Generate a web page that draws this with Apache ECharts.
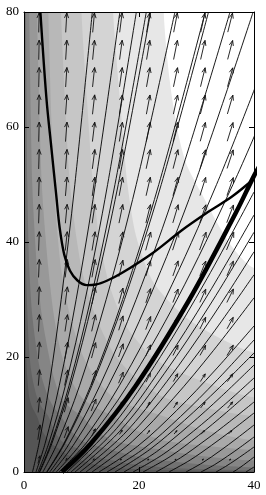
<!DOCTYPE html>
<html><head><meta charset="utf-8">
<script src="https://cdn.jsdelivr.net/npm/echarts@6/dist/echarts.min.js"></script>
<style>html,body{margin:0;padding:0;background:#fff}#c{width:266px;height:495px}</style>
</head><body><div id="c"></div>
<script>
// ---- axes ----
const xTicks = [0, 20, 40];
const yTicks = [0, 20, 40, 60, 80];

// ---- gray band boundaries (top edge -> right edge), lightest first ----
const band1 = [[24.3,80],[24.9,72],[25.8,64.7],[27,58],[28.3,53.4],[31,48.2],[33.5,43.5],[36.3,39],[40,35.5]];
const band2 = [[15.5,80],[16.7,64.7],[18,50],[19.5,41],[22.5,33],[28,27],[34,23.3],[40,20.8]];
const band3 = [[10,80],[11,64],[12,50],[13.2,40],[15,32],[18,25],[23,19.5],[31,15.8],[40,13]];
const band4 = [[6.43,80],[8.0,50],[10,35.5],[12.4,27.2],[15.5,20.8],[19.4,16.4],[24.3,13],[31.2,11.2],[40,9.7]];
const band5 = [[4.23,80],[5.2,50],[6.43,35.5],[8.0,27.2],[10,20.8],[12.4,16.4],[15.5,13],[19.4,11.2],[24.3,9.7],[31.2,7.3],[40,5.5]];
const band6 = [[2.26,80],[3.1,50],[4.23,35.5],[5.2,27.2],[6.43,20.8],[8.0,16.4],[10,13],[12.4,11.2],[15.5,9.7],[19.4,7.3],[24.3,5.5],[31.2,4.6],[40,3.8]];
const band7 = [[0.92,80],[1.44,50],[2.26,35.5],[3.1,27.2],[4.23,20.8],[5.2,16.4],[6.43,13],[8.0,11.2],[10,9.7],[12.4,7.3],[15.5,5.5],[19.4,4.6],[24.3,3.8],[31.2,2.75],[40,2.0]];
const band8 = [[0.35,80],[0.57,50],[0.92,35.5],[1.44,27.2],[2.26,20.8],[3.1,16.4],[4.23,13],[5.2,11.2],[6.43,9.7],[8.0,7.3],[10,5.5],[12.4,4.6],[15.5,3.8],[19.4,2.75],[24.3,2.0],[31.2,1.3],[40,0.8]];
const band9 = [[0.12,80],[0.35,35.5],[0.92,20.8],[1.44,16.4],[2.26,13],[3.1,11.2],[4.23,9.7],[5.2,7.3],[6.43,5.5],[8.0,4.6],[10,3.8],[12.4,2.75],[15.5,2.0],[19.4,1.3],[24.3,0.8],[31.2,0.5],[40,0.3]];
const band10 = [[0.04,80],[0.12,35.5],[0.35,20.8],[0.57,16.4],[0.92,13],[1.44,11.2],[2.26,9.7],[3.1,7.3],[4.23,5.5],[5.2,4.6],[6.43,3.8],[8.0,2.75],[10,2.0],[12.4,1.3],[15.5,0.8],[19.4,0.5],[24.3,0.3],[31.2,0.17],[40,0.1]];
const bandBase = '#555555';
// colour of the region above each boundary, lightest (above band1) first
const bandColors = ['#ffffff','#e7e7e7','#d4d4d4','#c6c6c6','#b8b8b8','#a9a9a9','#989898','#858585','#727272','#636363'];

// ---- streamlines ----
const slA = [[1.48,0],[2.62,5],[4.37,15],[6.47,30],[8.84,50],[11.88,80]];
const slB = [[2.08,0],[3.68,5],[6.13,15],[9.07,30],[12.40,50],[16.67,80]];
const slC = [[2.44,0],[4.31,5],[7.19,15],[10.64,30],[14.54,50],[19.54,80]];
const slD = [[2.66,0],[4.70,5],[7.83,15],[11.58,30],[15.82,50],[21.27,80]];
const slE = [[2.75,0],[4.86,5],[8.11,15],[11.99,30],[16.39,50],[22.03,80]];
const slF = [[3.28,0],[5.80,5],[9.66,15],[14.29,30],[19.52,50],[26.25,80]];
const slG = [[3.94,0],[6.96,5],[11.60,15],[17.16,30],[23.44,50],[31.52,80]];
const slH = [[4.01,0],[7.09,5],[11.81,15],[17.47,30],[23.87,50],[32.09,80]];
const slI = [[4.47,0],[7.91,5],[13.18,15],[19.50,30],[26.65,50],[35.83,80]];
const slJ = [[4.98,0],[8.80,5],[14.66,15],[21.69,30],[29.64,50],[39.85,80]];
const slK = [[5.62,0],[9.94,5],[16.57,15],[24.51,30],[33.49,50],[41.4,70]];
const slL = [[6.10,0],[10.79,5],[17.98,15],[26.60,30],[36.34,50],[41.6,62]];
const sr1 = [[7.48,0],[15.61,8.28],[23.74,20.06],[31.87,33.7],[40,48.7]];
const sr2 = [[8.17,0],[16.13,7.60],[24.09,18.42],[32.04,30.93],[40,44.7]];
const sr3 = [[8.87,0],[16.65,7.09],[24.44,17.18],[32.22,28.86],[40,41.7]];
const sr4 = [[9.74,0],[17.31,6.51],[24.87,15.78],[32.44,26.5],[40,38.3]];
const sr5 = [[10.78,0],[18.09,6.07],[25.39,14.41],[32.7,23.94],[40,34.3]];
const sr6 = [[11.83,0],[18.87,5.36],[25.92,12.73],[32.96,21.15],[40,30.3]];
const sr7 = [[13.04,0],[19.78,4.50],[26.52,10.67],[33.26,17.73],[40,25.4]];
const sr8 = [[14.43,0],[20.82,4.06],[27.22,9.64],[33.61,16.03],[40,22.96]];
const sr9 = [[15.83,0],[21.87,3.91],[27.92,9.0],[33.96,14.66],[40,20.7]];
const sr10 = [[17.39,0],[23.04,3.52],[28.7,8.09],[34.35,13.17],[40,18.6]];
const sr11 = [[18.96,0],[24.22,3.09],[29.48,7.11],[34.74,11.58],[40,16.35]];
const sr12 = [[20.7,0],[25.53,2.76],[30.35,6.35],[35.18,10.34],[40,14.6]];
const sr13 = [[22.96,0],[27.22,2.47],[31.48,5.49],[35.74,8.74],[40,12.17]];
const sr14 = [[25.2,0],[28.9,2.08],[32.6,4.63],[36.3,7.37],[40,10.26]];
const sr15 = [[28.17,0],[31.13,1.66],[34.09,3.68],[37.04,5.87],[40,8.17]];
const sr16 = [[30.78,0],[33.09,1.24],[35.39,2.75],[37.7,4.37],[40,6.09]];
const sr17 = [[33.39,0],[35.04,0.95],[36.7,2.03],[38.35,3.17],[40,4.35]];
const sr18 = [[36.35,0],[37.26,0.57],[38.18,1.22],[39.09,1.90],[40,2.61]];
const sr19 = [[38.6,0],[40,0.87]];

// ---- heavy curves ----
const uCurve = [[2.85,80],[3.9,65],[4.8,56],[5.6,48.2],[6.2,42.5],[7.0,37.8],[8.0,35.0],[9.3,33.3],[10.9,32.5],[12.5,32.6],[14.5,33.3],[17,34.6],[22.4,38.1],[27.4,42],[32,45.2],[36.3,48],[40,51]];
const heavyCurve = [[6.6,0],[11.67,5],[19.44,15],[28.77,30],[36.8,45],[40,51.5],[41,53.3]];

// ---- direction field ----
const arrowX = [2.6, 7.35, 12.1, 16.85, 21.6, 26.35, 31.1, 35.85];
const arrowY = [2.15, 6.9, 11.65, 16.4, 21.15, 25.9, 30.65, 35.4, 40.15, 44.9, 49.65, 54.4, 59.15, 63.9, 68.65, 73.4, 78.15];
const arrowAngle = [
  [14, 29, 37, 42, 45, 47, 49, 50],
  [8.5, 20, 27.5, 33, 37, 40, 42, 44],
  [6, 15, 22, 27, 31, 34, 37, 39],
  [4.7, 12, 18, 23, 26.5, 30, 32.5, 35],
  [3.8, 10, 15, 19.5, 23, 26.5, 29, 31.5],
  [3.2, 8.6, 13, 17, 20.7, 23.7, 26.3, 28.6],
  [2.8, 7.5, 11.6, 15.3, 18.5, 21.4, 24, 26],
  [2.5, 6.7, 10.4, 13.8, 16.8, 19.5, 22, 24],
  [2.2, 6, 9.4, 12.5, 15.4, 18, 20.2, 22.3],
  [2, 5.4, 8.6, 11.5, 14, 16.5, 18.8, 20.8],
  [1.8, 5, 8, 10.6, 13, 15.4, 17.5, 19.5],
  [1.7, 4.6, 7.3, 9.8, 12.2, 14.4, 16.4, 18.3],
  [1.6, 4.3, 6.8, 9.2, 11.4, 13.5, 15.4, 17.2],
  [1.4, 4, 6.4, 8.6, 10.7, 12.7, 14.5, 16.3],
  [1.4, 3.7, 6, 8.1, 10.1, 12, 13.7, 15.4],
  [1.3, 3.5, 5.6, 7.6, 9.5, 11.3, 13, 14.7],
  [1.2, 3.3, 5.3, 7.2, 9, 10.8, 12.4, 14]
];
const arrowLen = [
  [1.39, 0.52, 0.35, 0.26, 0.26, 0.26, 0.26, 0.26],
  [2.61, 2.09, 1.39, 0.87, 0.78, 0.78, 0.87, 0.87],
  [2.61, 2.61, 2.26, 1.57, 1.22, 1.22, 1.3, 1.39],
  [2.78, 2.78, 2.61, 2.09, 1.74, 1.57, 1.57, 1.65],
  [2.96, 2.96, 2.78, 2.43, 2.09, 2.0, 2.0, 2.09],
  [2.96, 2.96, 2.96, 2.61, 2.43, 2.26, 2.26, 2.26],
  [3.13, 3.13, 2.96, 2.78, 2.61, 2.52, 2.52, 2.61],
  [3.13, 3.13, 3.13, 2.96, 2.78, 2.78, 2.78, 2.78],
  [3.3, 3.3, 3.3, 3.3, 3.3, 3.3, 3.3, 3.3],
  [3.3, 3.3, 3.3, 3.3, 3.3, 3.3, 3.3, 3.3],
  [3.3, 3.3, 3.3, 3.3, 3.3, 3.3, 3.3, 3.3],
  [3.4, 3.4, 3.4, 3.4, 3.4, 3.4, 3.4, 3.4],
  [3.4, 3.4, 3.4, 3.4, 3.4, 3.4, 3.4, 3.4],
  [3.4, 3.4, 3.4, 3.4, 3.4, 3.4, 3.4, 3.4],
  [3.4, 3.4, 3.4, 3.4, 3.4, 3.4, 3.4, 3.4],
  [3.4, 3.4, 3.4, 3.4, 3.4, 3.4, 3.4, 3.4],
  [3.4, 3.4, 3.4, 3.4, 3.4, 3.4, 3.4, 3.4]
];

// ---- build ----
const bands = [band10, band9, band8, band7, band6, band5, band4, band3, band2, band1];
const bandPolys = [[[-5,-5],[50,-5],[50,90],[-5,90]]].concat(bands.map(b => {
  const last = b[b.length - 1];
  return [[b[0][0], 90]].concat(b, [[50, last[1]], [50, 90]]);
}));
const fills = [bandBase].concat(bandColors.slice().reverse());

const thinLines = [slA, slB, slC, slD, slE, slF, slG, slH, slI, slJ, slK, slL,
  sr1, sr2, sr3, sr4, sr5, sr6, sr7, sr8, sr9, sr10, sr11, sr12, sr13, sr14, sr15, sr16, sr17, sr18, sr19];

const arrowData = [];
arrowY.forEach((y, j) => arrowX.forEach((x, i) => arrowData.push([x, y, arrowAngle[j][i], arrowLen[j][i]])));

const font = 'Liberation Serif';
function axisBase(pos, isX, showLabel) {
  return {
    type: 'value', position: pos,
    min: isX ? xTicks[0] : yTicks[0],
    max: isX ? xTicks[xTicks.length - 1] : yTicks[yTicks.length - 1],
    interval: isX ? xTicks[1] - xTicks[0] : yTicks[1] - yTicks[0],
    z: 10,
    axisLine: {show: true, onZero: false, lineStyle: {color: '#000', width: 1}},
    axisTick: {show: true, inside: true, length: 5, lineStyle: {color: '#000', width: 1}},
    axisLabel: {show: showLabel, margin: isX ? 7 : 5, fontSize: 13, fontFamily: font, color: '#000'},
    splitLine: {show: false}
  };
}

const series = [];
series.push({
  type: 'custom', coordinateSystem: 'cartesian2d', clip: true, silent: true, z: 1,
  data: bandPolys.map((p, i) => [20, 40, i]), encode: {x: 0, y: 1},
  renderItem: function (params, api) {
    const idx = params.dataIndex;
    const pts = bandPolys[idx].map(p => api.coord(p));
    return {type: 'polygon', shape: {points: pts, smooth: idx === 0 ? 0 : 0.25}, style: {fill: fills[idx], stroke: null}};
  }
});
thinLines.forEach(l => series.push({
  type: 'line', data: l, symbol: 'none', smooth: 0.35, silent: true, z: 3,
  lineStyle: {color: '#000', width: 0.9}
}));
series.push({
  type: 'custom', coordinateSystem: 'cartesian2d', clip: true, silent: true, z: 4,
  data: arrowData, encode: {x: 0, y: 1},
  renderItem: function (params, api) {
    const x = api.value(0), y = api.value(1), ang = api.value(2) * Math.PI / 180, len = api.value(3);
    const c = api.coord([x, y]);
    const s = api.size([1, 1]);
    const dx = len * Math.sin(ang) * s[0], dy = -len * Math.cos(ang) * s[1];
    const t = [c[0] - dx / 2, c[1] - dy / 2], h = [c[0] + dx / 2, c[1] + dy / 2];
    const L = Math.hypot(dx, dy);
    const hs = Math.min(5.5, Math.max(1.5, 0.4 * L));
    const ux = dx / L, uy = dy / L, a = 22 * Math.PI / 180;
    const ca = Math.cos(a), sa = Math.sin(a);
    const b1 = [h[0] - hs * (ux * ca - uy * sa), h[1] - hs * (ux * sa + uy * ca)];
    const b2 = [h[0] - hs * (ux * ca + uy * sa), h[1] - hs * (-ux * sa + uy * ca)];
    return {type: 'group', children: [
      {type: 'line', shape: {x1: t[0], y1: t[1], x2: h[0], y2: h[1]}, style: {stroke: '#111', lineWidth: 0.9}},
      {type: 'polyline', shape: {points: [b1, h, b2]}, style: {stroke: '#111', lineWidth: 0.9, fill: null}}
    ]};
  }
});
series.push({type: 'line', data: heavyCurve, symbol: 'none', smooth: 0.35, silent: true, z: 5, lineStyle: {color: '#000', width: 4.5}});
series.push({type: 'line', data: uCurve, symbol: 'none', smooth: 0.35, silent: true, z: 5, lineStyle: {color: '#000', width: 2.4}});

const chart = echarts.init(document.getElementById('c'), null, {renderer: 'canvas'});
chart.setOption({
  animation: false,
  backgroundColor: '#fff',
  grid: {left: 24, right: 12, top: 12, bottom: 23, containLabel: false},
  xAxis: [axisBase('bottom', true, true), axisBase('top', true, false)],
  yAxis: [axisBase('left', false, true), axisBase('right', false, false)],
  series: series
});
</script></body></html>
